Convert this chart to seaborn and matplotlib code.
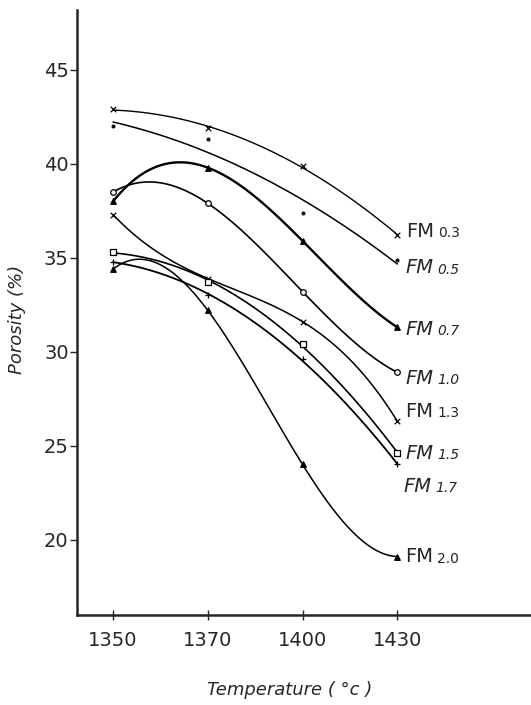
import numpy as np
import pandas as pd
import matplotlib
matplotlib.use("Agg")
import matplotlib.pyplot as plt
import seaborn as sns

# temperatures (equally spaced on the plot) and porosity per FM series
temps = ["1350", "1370", "1400", "1430"]
series = ["0.3", "0.5", "0.7", "1.0", "1.3", "1.5", "1.7", "2.0"]
fm03 = [42.9, 41.9, 39.9, 36.2]
fm05 = [42.0, 41.3, 37.4, 34.9]
fm07 = [38.0, 39.8, 35.9, 31.3]
fm10 = [38.5, 37.9, 33.2, 28.9]
fm13 = [37.3, 33.9, 31.6, 26.3]
fm15 = [35.3, 33.7, 30.4, 24.6]
fm17 = [34.8, 33.0, 29.6, 24.0]
fm20 = [34.4, 32.2, 24.0, 19.1]
values = [fm03, fm05, fm07, fm10, fm13, fm15, fm17, fm20]

rows = []
for name, vals in zip(series, values):
    for i, v in enumerate(vals):
        rows.append({"pos": i, "porosity": v, "series": name})
df = pd.DataFrame(rows)

sns.set_style("ticks")
plt.rcParams["font.family"] = ["DejaVu Sans"]

fig = plt.figure(figsize=(5.31, 7.05), dpi=100)
ax = fig.add_axes([0.145, 0.128, 0.855, 0.858])

markers = ["x", ".", "^", "o", "x", "s", "+", "^"]
filled = [True, True, True, False, True, False, True, True]
lws = [1.0, 1.1, 1.7, 1.2, 1.1, 1.2, 1.3, 1.1]
# smooth curve order per series (hand-drawn fits in the original)
orders = [2, 2, 3, 3, 3, 2, 2, 3]
# label offsets in pixels (dx, dy) relative to last point, and style
offs = [(9, -4), (8, 8), (8, 2), (8, 6), (8, -10), (8, 0), (6, 22), (8, 0)]
styles = ["normal", "italic", "italic", "italic", "normal", "italic", "italic", "normal"]

for k, name in enumerate(series):
    sub = df[df["series"] == name]
    sns.regplot(data=sub, x="pos", y="porosity", order=orders[k], ci=None,
                scatter=False, truncate=True, ax=ax,
                line_kws={"color": "black", "lw": lws[k]})
    fc = "black" if filled[k] else "white"
    ax.scatter(sub["pos"], sub["porosity"], marker=markers[k], s=16,
               facecolors=fc, edgecolors="black", linewidths=0.9, zorder=3)
    x_last = sub["pos"].iloc[-1]
    y_last = sub["porosity"].iloc[-1]
    dx, dy = offs[k]
    ax.annotate("FM", (x_last, y_last), xytext=(dx, -dy),
                textcoords="offset pixels", fontsize=14, style=styles[k],
                va="center", ha="left")
    ax.annotate(name, (x_last, y_last), xytext=(dx + 32, -dy - 2),
                textcoords="offset pixels", fontsize=10, style=styles[k],
                va="center", ha="left")

ax.set_xlim(-0.38, 4.41)
ax.set_ylim(16.0, 48.2)
ax.set_xticks(range(len(temps)))
ax.set_xticklabels(temps)
ax.set_yticks([20, 25, 30, 35, 40, 45])
ax.tick_params(axis="x", direction="inout", length=7, width=1, labelsize=14, pad=8)
ax.tick_params(axis="y", direction="out", length=5, width=1, labelsize=14, pad=1)

sns.despine(ax=ax)
ax.spines["left"].set_linewidth(1.8)
ax.spines["bottom"].set_linewidth(1.8)

ax.set_xlabel("Temperature ( °c )", fontsize=13, style="italic")
ax.set_ylabel("Porosity (%)", fontsize=13, style="italic")
ax.xaxis.set_label_coords(0.469, -0.109)
ax.yaxis.set_label_coords(-0.112, 0.488)

fig.savefig("out.png", dpi=100)
